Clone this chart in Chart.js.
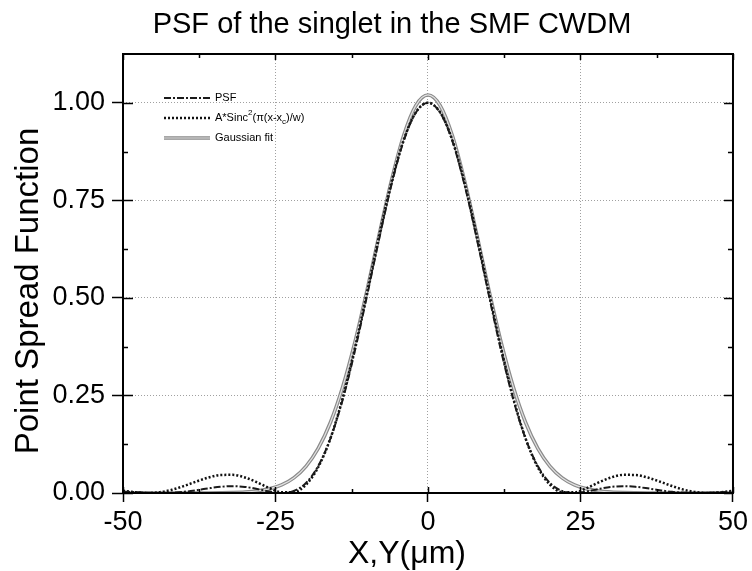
<!DOCTYPE html>
<html>
<head>
<meta charset="utf-8">
<script src="https://cdn.jsdelivr.net/npm/chart.js@4.4.0/dist/chart.umd.min.js"></script>
<style>
    html, body { margin: 0; padding: 0; background: #fff; }
</style>
</head>
<body>
<canvas id="psfChart" width="752" height="571"></canvas>
<script>
// positions along X,Y in microns
const xPositions = [-50, -48, -46, -44, -42, -40, -38, -36, -34, -32, -30, -28, -26, -24, -22, -20, -18, -16, -14, -12, -10, -8, -6, -4, -2,
    0, 2, 4, 6, 8, 10, 12, 14, 16, 18, 20, 22, 24, 26, 28, 30, 32, 34, 36, 38, 40, 42, 44, 46, 48, 50];

// measured PSF
const psfValues = [0.0035, 0.0022, 0.0008, 0.0000, 0.0006, 0.0030, 0.0071, 0.0119, 0.0159, 0.0175, 0.0156, 0.0104, 0.0038, 0.0000, 0.0050,
    0.0257, 0.0690, 0.1395, 0.2387, 0.3632, 0.5052, 0.6522, 0.7894, 0.9013, 0.9745,
    1.0000,
    0.9745, 0.9013, 0.7894, 0.6522, 0.5052, 0.3632, 0.2387, 0.1395, 0.0690, 0.0257,
    0.0050, 0.0000, 0.0038, 0.0104, 0.0156, 0.0175, 0.0159, 0.0119, 0.0071, 0.0030, 0.0006, 0.0000, 0.0008, 0.0022, 0.0035];

// A*Sinc^2 fit
const sincFitValues = [0.0058, 0.0017, 0.0000, 0.0020, 0.0082, 0.0179, 0.0293, 0.0396, 0.0462, 0.0465, 0.0397, 0.0272, 0.0126, 0.0017, 0.0021,
    0.0213, 0.0659, 0.1397, 0.2428, 0.3705, 0.5138, 0.6602, 0.7952, 0.9041, 0.9754,
    1.0000,
    0.9754, 0.9041, 0.7952, 0.6602, 0.5138, 0.3705, 0.2428, 0.1397, 0.0659, 0.0213,
    0.0021, 0.0017, 0.0126, 0.0272, 0.0397, 0.0465, 0.0462, 0.0396, 0.0293, 0.0179, 0.0082, 0.0020, 0.0000, 0.0017, 0.0058];

// Gaussian fit
const gaussFitValues = [0, 0, 0, 0, 0, 0, 0.0000, 0.0001, 0.0004, 0.0010, 0.0023, 0.0051, 0.0106, 0.0208, 0.0387,
    0.0683, 0.1141, 0.1807, 0.2711, 0.3853, 0.5188, 0.6618, 0.7997, 0.9154, 0.9928,
    1.0200,
    0.9928, 0.9154, 0.7997, 0.6618, 0.5188, 0.3853, 0.2711, 0.1807, 0.1141, 0.0683,
    0.0387, 0.0208, 0.0106, 0.0051, 0.0023, 0.0010, 0.0004, 0.0001, 0.0000, 0, 0, 0, 0, 0, 0];

const xTicks = [-50, -25, 0, 25, 50];
const xMinorTicks = [-37.5, -12.5, 12.5, 37.5];
const yTicks = [0, 0.25, 0.5, 0.75, 1.0];
const yMinorTicks = [0.125, 0.375, 0.625, 0.875];

const FONT = '"Liberation Sans", Arial, Helvetica, sans-serif';

function toPoints(values) {
    return xPositions.map((x, i) => ({ x: x, y: values[i] }));
}

// frame + inward ticks (major and minor) on all four sides, plus the titles
const framePlugin = {
    id: 'frame',
    afterDraw(chart) {
        const { ctx, chartArea: a, scales: { x, y } } = chart;
        ctx.save();
        ctx.strokeStyle = '#000';
        ctx.lineWidth = 1.5;
        ctx.beginPath();
        xTicks.forEach(v => {
            const px = Math.round(x.getPixelForValue(v)) + 0.5;
            ctx.moveTo(px, a.bottom); ctx.lineTo(px, a.bottom - 6);
            ctx.moveTo(px, a.top); ctx.lineTo(px, a.top + 6);
        });
        xMinorTicks.forEach(v => {
            const px = Math.round(x.getPixelForValue(v)) + 0.5;
            ctx.moveTo(px, a.bottom); ctx.lineTo(px, a.bottom - 4);
            ctx.moveTo(px, a.top); ctx.lineTo(px, a.top + 4);
        });
        yTicks.forEach(v => {
            const py = Math.round(y.getPixelForValue(v)) + 0.5;
            ctx.moveTo(a.left, py); ctx.lineTo(a.left + 10, py);
            ctx.moveTo(a.right, py); ctx.lineTo(a.right - 9, py);
        });
        yMinorTicks.forEach(v => {
            const py = Math.round(y.getPixelForValue(v)) + 0.5;
            ctx.moveTo(a.left, py); ctx.lineTo(a.left + 5, py);
            ctx.moveTo(a.right, py); ctx.lineTo(a.right - 5, py);
        });
        ctx.stroke();

        ctx.lineWidth = 2;
        ctx.strokeRect(a.left, a.top, a.right - a.left, a.bottom - a.top);

        ctx.fillStyle = '#000';
        ctx.textAlign = 'center';
        ctx.textBaseline = 'alphabetic';

        // chart title
        ctx.font = '29px ' + FONT;
        ctx.fillText('PSF of the singlet in the SMF CWDM', 392, 33);

        // axis titles
        ctx.font = '32px ' + FONT;
        ctx.fillText('X,Y(\u03bcm)', 407, 563);

        ctx.save();
        ctx.translate(38, 291);
        ctx.rotate(-Math.PI / 2);
        ctx.font = '33px ' + FONT;
        ctx.fillText('Point Spread Function', 0, 0);
        ctx.restore();

        ctx.restore();
    }
};

// legend in the upper left corner, samples drawn from the dataset styles
const legendPlugin = {
    id: 'psfLegend',
    afterDraw(chart) {
        const { ctx } = chart;
        const ds = chart.data.datasets;
        const x0 = 164, x1 = 210, tx = 215;
        const rows = [98, 118, 138];
        ctx.save();
        const sample = (d, yy) => {
            ctx.strokeStyle = d.borderColor;
            ctx.lineWidth = d.borderWidth;
            ctx.setLineDash(d.borderDash || []);
            ctx.beginPath();
            ctx.moveTo(x0, yy); ctx.lineTo(x1, yy);
            ctx.stroke();
        };
        sample(ds[0], rows[0]);
        sample(ds[1], rows[1]);
        sample(ds[3], rows[2]);
        sample(ds[2], rows[2]);
        ctx.setLineDash([]);

        ctx.fillStyle = '#000';
        ctx.textBaseline = 'middle';
        ctx.textAlign = 'left';
        const main = '11px ' + FONT, small = '8px ' + FONT;
        ctx.font = main;
        ctx.fillText('PSF', tx, rows[0]);
        ctx.fillText('Gaussian fit', tx, rows[2]);

        // A*Sinc^2(pi(x-x_c)/w)
        let cx = tx;
        const put = (txt, font, dy) => {
            ctx.font = font;
            ctx.fillText(txt, cx, rows[1] + dy);
            cx += ctx.measureText(txt).width;
        };
        put('A*Sinc', main, 0);
        put('2', small, -5);
        put('(\u03c0(x-x', main, 0);
        put('c', small, 4);
        put(')/w)', main, 0);
        ctx.restore();
    }
};

const ctx = document.getElementById('psfChart').getContext('2d');
new Chart(ctx, {
    type: 'line',
    data: {
        datasets: [
            {
                label: 'PSF',
                data: toPoints(psfValues),
                borderColor: '#1a1a1a',
                borderWidth: 2,
                borderDash: [7, 2, 2, 2]
            },
            {
                label: 'A*Sinc^2(pi(x-xc)/w)',
                data: toPoints(sincFitValues),
                borderColor: '#111',
                borderWidth: 2.5,
                borderDash: [2, 2]
            },
            {
                label: 'Gaussian fit',
                data: toPoints(gaussFitValues),
                borderColor: '#e2e2e2',
                borderWidth: 1.2
            },
            {
                label: 'Gaussian fit (edge)',
                data: toPoints(gaussFitValues),
                borderColor: '#8a8a8a',
                borderWidth: 3.6
            }
        ]
    },
    options: {
        responsive: false,
        animation: false,
        devicePixelRatio: 1,
        elements: {
            point: { radius: 0 },
            line: { fill: false, cubicInterpolationMode: 'monotone' }
        },
        layout: { padding: { left: 0, right: 15, top: 54, bottom: 0 } },
        plugins: {
            legend: { display: false },
            tooltip: { enabled: false },
            title: { display: false }
        },
        scales: {
            x: {
                type: 'linear',
                min: -50,
                max: 50,
                afterBuildTicks(scale) { scale.ticks = xTicks.map(v => ({ value: v })); },
                afterFit(scale) { scale.height = 78; },
                ticks: {
                    color: '#000',
                    font: { family: FONT, size: 27 },
                    padding: 4,
                    maxRotation: 0,
                    callback: v => String(v)
                },
                grid: {
                    color: '#a0a0a0',
                    lineWidth: 1,
                    tickLength: 9,
                    tickColor: '#000',
                    tickWidth: 1.5
                },
                border: { display: false, dash: [1, 2] }
            },
            y: {
                type: 'linear',
                min: 0,
                max: 1.125,
                afterBuildTicks(scale) { scale.ticks = yTicks.map(v => ({ value: v })); },
                afterFit(scale) { scale.width = 123; },
                ticks: {
                    color: '#000',
                    font: { family: FONT, size: 27 },
                    padding: 7,
                    callback: v => Number(v).toFixed(2)
                },
                grid: {
                    color: '#a0a0a0',
                    lineWidth: 1,
                    tickLength: 11,
                    tickColor: '#000',
                    tickWidth: 1.5
                },
                border: { display: false, dash: [1, 2] }
            }
        }
    },
    plugins: [framePlugin, legendPlugin]
});
</script>
</body>
</html>
